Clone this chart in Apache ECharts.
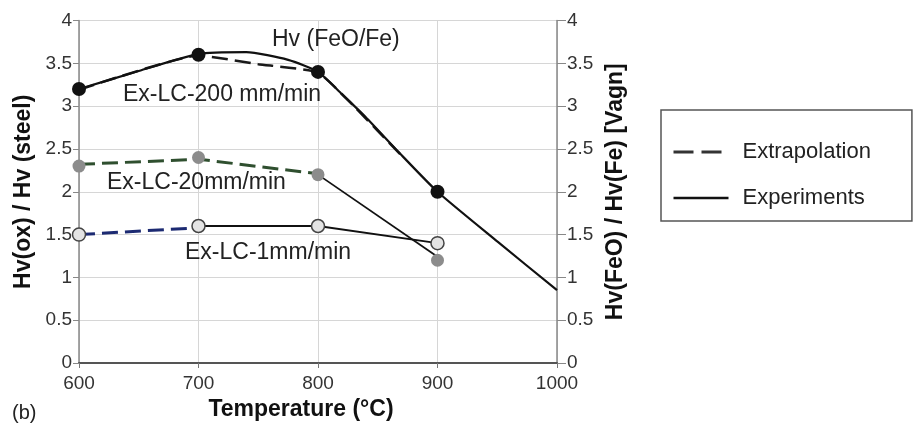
<!DOCTYPE html>
<html>
<head>
<meta charset="utf-8">
<script src="https://cdn.jsdelivr.net/npm/echarts@6/dist/echarts.min.js"></script>
<style>html,body{margin:0;padding:0;background:#fff}#c{width:913px;height:426px}</style>
</head>
<body>
<div id="c"></div>
<script>
// Temperature ticks
const xTicks = [600, 700, 800, 900, 1000];
const yTicks = [0, 0.5, 1, 1.5, 2, 2.5, 3, 3.5, 4];

// Hv (FeO/Fe) experimental curve (right axis)
const hvCurveT = [600, 650, 700, 740, 775, 800, 820, 840, 867, 900, 950, 1000];
const hvCurveV = [3.2, 3.41, 3.61, 3.63, 3.54, 3.4, 3.14, 2.87, 2.47, 2.0, 1.42, 0.85];

// Ex-LC-200 mm/min
const lc200T = [600, 700, 800, 900];
const lc200V = [3.2, 3.6, 3.4, 2.0];
const lc200ExtrT = [600, 700, 750, 800, 830, 870];
const lc200ExtrV = [3.19, 3.59, 3.49, 3.39, 3.0, 2.42];

// Ex-LC-20mm/min
const lc20T = [600, 700, 800, 900];
const lc20V = [2.3, 2.4, 2.2, 1.2];
const lc20ExtrT = [600, 700, 800];
const lc20ExtrV = [2.32, 2.38, 2.21];
const lc20ExpT = [800, 900];
const lc20ExpV = [2.2, 1.24];

// Ex-LC-1mm/min
const lc1T = [600, 700, 800, 900];
const lc1V = [1.5, 1.6, 1.6, 1.4];
const lc1ExtrT = [600, 700];
const lc1ExtrV = [1.5, 1.58];
const lc1ExpT = [700, 800, 900];
const lc1ExpV = [1.6, 1.6, 1.4];

const zip = (a, b) => a.map((x, i) => [x, b[i]]);
const FONT = 'Liberation Sans, Arial, sans-serif';
const dash = [16, 7];

const chart = echarts.init(document.getElementById('c'), null, {renderer: 'canvas'});
chart.setOption({
  animation: false,
  backgroundColor: '#fff',
  textStyle: {fontFamily: FONT},
  grid: {left: 79, right: 356, top: 20.5, bottom: 63, containLabel: false},
  legend: {
    data: [
      {name: 'Extrapolation', itemStyle: {opacity: 0}, lineStyle: {color: '#333', type: [20, 8], width: 3}},
      {name: 'Experiments', itemStyle: {opacity: 0}, lineStyle: {color: '#111', type: 'solid', width: 2.5}}
    ],
    orient: 'vertical',
    left: 661, top: 110,
    padding: [31, 41, 12, 11],
    itemWidth: 55, itemHeight: 22, itemGap: 24,
    textStyle: {fontSize: 22, color: '#222', fontFamily: FONT, padding: [0, 0, 0, 9]},
    borderColor: '#555', borderWidth: 1.5,
    selectedMode: false
  },
  xAxis: {
    type: 'value', min: 600, max: 1000, interval: 100,
    name: 'Temperature (°C)', nameLocation: 'middle', nameGap: 33,
    nameTextStyle: {fontSize: 23, fontWeight: 'bold', color: '#111', padding: [0, 34, 0, 0]},
    axisLine: {show: true, lineStyle: {color: '#555', width: 2}},
    axisTick: {show: true, length: 5, lineStyle: {color: '#777'}},
    axisLabel: {fontSize: 19, color: '#333', margin: 11, formatter: v => String(v)},
    splitLine: {show: true, lineStyle: {color: '#d6d6d6', width: 1}}
  },
  yAxis: [
    {
      type: 'value', min: 0, max: 4, interval: 0.5, position: 'left',
      name: 'Hv(ox) / Hv (steel)', nameLocation: 'middle', nameGap: 44, nameRotate: 90,
      nameTextStyle: {fontSize: 23, fontWeight: 'bold', color: '#111'},
      axisLine: {show: true, lineStyle: {color: '#888', width: 1.5}},
      axisTick: {show: true, length: 6, lineStyle: {color: '#888'}},
      axisLabel: {fontSize: 19, color: '#333', margin: 7, formatter: v => String(v)},
      splitLine: {show: true, lineStyle: {color: '#d6d6d6', width: 1}}
    },
    {
      type: 'value', min: 0, max: 4, interval: 0.5, position: 'right',
      name: 'Hv(FeO) / Hv(Fe) [Vagn]', nameLocation: 'middle', nameGap: 45, nameRotate: 90,
      nameTextStyle: {fontSize: 23, fontWeight: 'bold', color: '#111'},
      axisLine: {show: true, lineStyle: {color: '#888', width: 1.5}},
      axisTick: {show: true, length: 9, lineStyle: {color: '#888'}},
      axisLabel: {fontSize: 19, color: '#333', margin: 10, formatter: v => String(v)},
      splitLine: {show: false}
    }
  ],
  series: [
    // Extrapolations (dashed)
    {name: 'Extrapolation', type: 'line', yAxisIndex: 1, data: zip(lc200ExtrT, lc200ExtrV), smooth: 0.15,
     symbol: 'none', lineStyle: {color: '#1a1a1a', width: 2.5, type: dash}, z: 3},
    {name: 'Extrapolation', type: 'line', data: zip(lc20ExtrT, lc20ExtrV),
     symbol: 'none', lineStyle: {color: '#2f4f2f', width: 3, type: dash}, z: 3},
    {name: 'Extrapolation', type: 'line', data: zip(lc1ExtrT, lc1ExtrV),
     symbol: 'none', lineStyle: {color: '#1c2a72', width: 3, type: dash}, z: 3},
    // Experiments (solid)
    {name: 'Experiments', type: 'line', yAxisIndex: 1, data: zip(hvCurveT, hvCurveV), smooth: 0.2,
     symbol: 'none', lineStyle: {color: '#111', width: 2.2}, z: 4},
    {name: 'Experiments', type: 'line', data: zip(lc20ExpT, lc20ExpV),
     symbol: 'none', lineStyle: {color: '#111', width: 1.8}, z: 4},
    {name: 'Experiments', type: 'line', data: zip(lc1ExpT, lc1ExpV),
     symbol: 'none', lineStyle: {color: '#111', width: 1.8}, z: 4},
    // Markers
    {name: 'Ex-LC-200 mm/min', type: 'scatter', data: zip(lc200T, lc200V), symbolSize: 14,
     itemStyle: {color: '#111', opacity: 1}, z: 6},
    {name: 'Ex-LC-20mm/min', type: 'scatter', data: zip(lc20T, lc20V), symbolSize: 13,
     itemStyle: {color: '#8c8c8c', opacity: 1}, z: 6},
    {name: 'Ex-LC-1mm/min', type: 'scatter', data: zip(lc1T, lc1V), symbolSize: 13,
     itemStyle: {color: '#e4e4e4', borderColor: '#444', borderWidth: 1.5, opacity: 1}, z: 6}
  ],
  graphic: [
    {type: 'text', left: 272, top: 28, z: 10, style: {text: 'Hv (FeO/Fe)', fontSize: 23, fill: '#222', fontFamily: FONT}},
    {type: 'text', left: 123, top: 83, z: 10, style: {text: 'Ex-LC-200 mm/min', fontSize: 23, fill: '#222', fontFamily: FONT}},
    {type: 'text', left: 107, top: 171, z: 10, style: {text: 'Ex-LC-20mm/min', fontSize: 23, fill: '#222', fontFamily: FONT}},
    {type: 'text', left: 185, top: 241, z: 10, style: {text: 'Ex-LC-1mm/min', fontSize: 23, fill: '#222', fontFamily: FONT}},
    {type: 'text', left: 12, top: 403, z: 10, style: {text: '(b)', fontSize: 20, fill: '#222', fontFamily: FONT}}
  ]
});
</script>
</body>
</html>
